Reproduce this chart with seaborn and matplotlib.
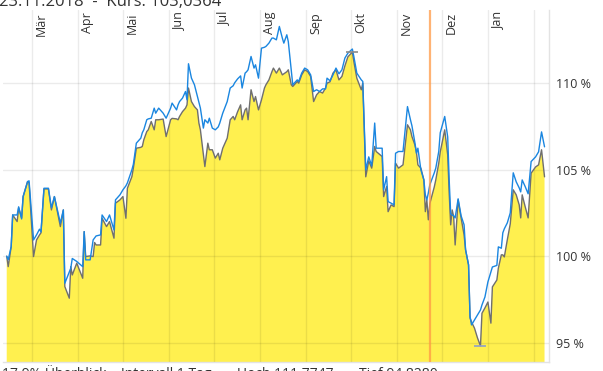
import pandas as pd
import numpy as np
import matplotlib
matplotlib.use("Agg")
import matplotlib.pyplot as plt
import matplotlib.transforms as mtransforms
import seaborn as sns

# Kursverlauf (grau, gelb gefuellt) und Vergleichslinie (blau), Werte in %
datum = [
    "2018-02-12", "2018-02-13", "2018-02-15", "2018-02-16", "2018-02-19", "2018-02-20",
    "2018-02-22", "2018-02-23", "2018-02-26", "2018-02-27", "2018-03-02", "2018-03-04",
    "2018-03-06", "2018-03-07", "2018-03-09", "2018-03-12", "2018-03-14", "2018-03-16",
    "2018-03-20", "2018-03-22", "2018-03-23", "2018-03-26", "2018-03-27", "2018-03-28",
    "2018-03-31", "2018-04-04", "2018-04-05", "2018-04-06", "2018-04-09", "2018-04-11",
    "2018-04-12", "2018-04-13", "2018-04-16", "2018-04-17", "2018-04-20", "2018-04-22",
    "2018-04-25", "2018-04-26", "2018-04-29", "2018-05-01", "2018-05-03", "2018-05-04",
    "2018-05-07", "2018-05-08", "2018-05-10", "2018-05-13", "2018-05-14", "2018-05-15",
    "2018-05-17", "2018-05-18", "2018-05-20", "2018-05-22", "2018-05-23", "2018-05-25",
    "2018-05-28", "2018-05-30", "2018-06-02", "2018-06-03", "2018-06-06", "2018-06-07",
    "2018-06-08", "2018-06-10", "2018-06-12", "2018-06-13", "2018-06-14", "2018-06-16",
    "2018-06-18", "2018-06-20", "2018-06-21", "2018-06-22", "2018-06-24", "2018-06-25",
    "2018-06-27", "2018-06-28", "2018-06-30", "2018-07-02", "2018-07-04", "2018-07-05",
    "2018-07-07", "2018-07-10", "2018-07-12", "2018-07-14", "2018-07-15", "2018-07-17",
    "2018-07-19", "2018-07-20", "2018-07-22", "2018-07-23", "2018-07-24", "2018-07-26",
    "2018-07-28", "2018-07-29", "2018-07-31", "2018-08-02", "2018-08-04", "2018-08-05",
    "2018-08-07", "2018-08-09", "2018-08-10", "2018-08-12", "2018-08-14", "2018-08-16",
    "2018-08-17", "2018-08-19", "2018-08-20", "2018-08-22", "2018-08-23", "2018-08-26",
    "2018-08-27", "2018-08-29", "2018-08-31", "2018-09-02", "2018-09-04", "2018-09-06",
    "2018-09-08", "2018-09-10", "2018-09-12", "2018-09-14", "2018-09-15", "2018-09-17",
    "2018-09-19", "2018-09-21", "2018-09-23", "2018-09-25", "2018-09-27", "2018-09-29",
    "2018-10-02", "2018-10-03", "2018-10-05", "2018-10-08", "2018-10-09", "2018-10-11",
    "2018-10-13", "2018-10-15", "2018-10-17", "2018-10-18", "2018-10-22", "2018-10-23",
    "2018-10-25", "2018-10-26", "2018-10-28", "2018-10-30", "2018-10-31", "2018-11-02",
    "2018-11-05", "2018-11-08", "2018-11-10", "2018-11-11", "2018-11-13", "2018-11-14",
    "2018-11-15", "2018-11-17", "2018-11-19", "2018-11-20", "2018-11-21", "2018-11-22",
    "2018-11-23", "2018-11-26", "2018-11-27", "2018-11-29", "2018-11-30", "2018-12-03",
    "2018-12-05", "2018-12-06", "2018-12-07", "2018-12-08", "2018-12-09", "2018-12-10",
    "2018-12-12", "2018-12-14", "2018-12-16", "2018-12-17", "2018-12-19", "2018-12-20",
    "2018-12-21", "2018-12-23", "2018-12-25", "2018-12-27", "2018-12-28", "2018-12-30",
    "2019-01-01", "2019-01-03", "2019-01-04", "2019-01-07", "2019-01-08", "2019-01-10",
    "2019-01-11", "2019-01-12", "2019-01-14", "2019-01-16", "2019-01-18", "2019-01-20",
    "2019-01-22", "2019-01-23", "2019-01-24", "2019-01-26", "2019-01-28", "2019-01-30",
    "2019-02-02", "2019-02-04", "2019-02-06", "2019-02-08",
]
kurs = [
    100.00, 99.40, 100.56, 102.38, 102.00, 102.79, 102.21, 103.44, 104.31, 104.23,
    99.98, 100.94, 101.23, 101.35, 103.88, 103.88, 102.67, 103.44, 101.71, 102.67,
    98.25, 97.58, 99.40, 98.92, 99.60, 98.73, 101.42, 99.98, 100.02, 99.98,
    100.79, 100.65, 100.65, 102.19, 101.71, 102.00, 101.04, 103.06, 103.25, 103.44,
    102.19, 103.92, 104.59, 105.08, 106.23, 106.28, 106.33, 106.71, 107.19, 107.29,
    107.77, 107.29, 107.87, 107.87, 107.91, 106.90, 107.87, 107.95, 107.92, 107.87,
    108.06, 108.34, 108.54, 108.73, 109.70, 108.92, 108.63, 108.44, 107.68, 107.29,
    105.85, 105.17, 106.52, 106.14, 106.14, 105.66, 105.94, 105.56, 106.23, 106.81,
    107.87, 108.06, 107.87, 108.34, 108.73, 107.87, 108.44, 108.54, 107.87, 109.60,
    108.92, 109.21, 108.44, 109.02, 109.70, 109.89, 110.17, 110.64, 110.85, 110.56,
    110.85, 110.46, 110.52, 110.64, 110.75, 109.89, 109.79, 110.08, 109.98, 110.46,
    110.75, 110.65, 110.37, 108.92, 109.31, 109.50, 109.41, 109.70, 109.98, 110.06,
    110.56, 110.75, 110.17, 110.37, 110.98, 111.50, 111.7747, 111.23, 110.27, 109.60,
    109.98, 104.58, 105.50, 105.08, 106.33, 106.04, 105.75, 103.44, 104.02, 102.57,
    102.96, 102.86, 105.37, 105.08, 105.27, 107.58, 107.29, 106.90, 106.42, 106.02,
    105.27, 105.08, 104.40, 102.57, 103.25, 102.10, 103.0364, 104.00, 104.40, 105.37,
    106.02, 107.29, 105.85, 103.65, 101.81, 102.67, 102.29, 100.65, 103.25, 102.21,
    101.23, 100.37, 99.50, 96.44, 96.21, 95.85, 95.29, 94.828, 96.71, 97.02,
    97.36, 96.14, 98.23, 98.63, 99.31, 100.08, 100.08, 99.96, 100.94, 101.87,
    103.83, 103.54, 102.96, 102.21, 103.54, 102.86, 102.21, 104.79, 105.15, 105.27,
    106.14, 104.58,
]
vergleich = [
    100.00, 99.80, 100.56, 102.38, 102.38, 102.85, 102.15, 103.44, 104.30, 104.35,
    100.94, 101.23, 101.56, 101.40, 103.92, 103.92, 102.79, 103.44, 101.91, 102.67,
    98.44, 99.09, 99.31, 99.87, 99.70, 99.40, 101.42, 99.79, 99.79, 100.94,
    101.06, 101.17, 101.23, 102.38, 102.00, 102.38, 101.52, 103.25, 103.54, 103.83,
    104.06, 104.23, 104.98, 105.30, 106.52, 106.81, 107.12, 107.29, 107.87, 107.92,
    107.96, 108.54, 108.25, 108.54, 108.25, 107.96, 108.54, 108.83, 108.44, 108.73,
    108.92, 109.12, 109.50, 109.02, 111.10, 110.27, 109.89, 109.21, 108.85, 108.54,
    107.39, 107.87, 107.68, 107.96, 107.39, 107.29, 107.46, 107.68, 108.25, 108.92,
    109.70, 109.83, 110.00, 110.23, 110.40, 109.70, 110.56, 110.64, 110.75, 111.52,
    110.85, 111.04, 110.27, 112.00, 112.05, 112.10, 112.29, 112.58, 112.58, 112.48,
    113.25, 112.58, 112.29, 112.77, 112.38, 110.75, 109.89, 110.17, 110.08, 110.56,
    110.85, 110.75, 110.46, 109.50, 109.60, 109.50, 109.65, 109.65, 110.27, 110.12,
    110.46, 110.85, 110.52, 110.75, 111.43, 111.71, 111.95, 111.52, 110.56, 110.17,
    110.08, 104.98, 105.73, 105.21, 107.68, 106.23, 106.23, 103.83, 104.59, 103.15,
    103.06, 102.96, 105.94, 106.04, 106.04, 108.63, 107.87, 107.52, 106.54, 105.94,
    106.23, 104.98, 104.40, 103.54, 103.25, 103.65, 104.12, 104.81, 105.08, 106.04,
    107.12, 108.06, 106.88, 104.40, 102.44, 102.38, 102.33, 102.21, 103.31, 102.33,
    101.81, 100.37, 99.50, 96.52, 96.04, 96.33, 96.62, 96.90, 97.19, 97.65,
    98.52, 99.09, 99.38, 99.47, 100.54, 100.46, 101.35, 101.58, 101.92, 102.50,
    104.81, 104.29, 103.94, 103.71, 104.40, 104.02, 103.60, 105.46, 105.73, 106.02,
    107.17, 106.31,
]

monate = ["Mär", "Apr", "Mai", "Jun", "Jul", "Aug", "Sep", "Okt", "Nov", "Dez", "Jan"]
monat_start = ["2018-03-01", "2018-04-01", "2018-05-01", "2018-06-01", "2018-07-01",
               "2018-08-01", "2018-09-01", "2018-10-01", "2018-11-01", "2018-12-01",
               "2019-01-01", "2019-02-01"]
y_ticks = [95, 100, 105, 110]

hoch_datum, hoch_wert = "2018-10-02", 111.7747
tief_datum, tief_wert = "2018-12-27", 94.828
auswahl_datum = "2018-11-23"
titel = "23.11.2018  -  Kurs: 103,0364"
fusszeile = "17,9% Überblick    Intervall 1 Tag       Hoch 111,7747       Tief 94,8280"

df = pd.DataFrame({"datum": pd.to_datetime(datum), "kurs": kurs, "vergleich": vergleich})

sns.set_style("white")
plt.rcParams["font.family"] = ["Open Sans", "DejaVu Sans"]

W, H = 603, 371
fig = plt.figure(figsize=(W / 100, H / 100), dpi=100)
ax = fig.add_axes([3 / W, 1 - 362 / H, 546 / W, 352 / H])

# gelbe Flaeche unter dem Kurs
ax.fill_between(df["datum"], df["kurs"], 90, color="#fff04f", lw=0, zorder=1)

sns.lineplot(data=df, x="datum", y="kurs", color="#6f6f6f", lw=1.0,
             estimator=None, ax=ax, zorder=3)
sns.lineplot(data=df, x="datum", y="vergleich", color="#1a86e0", lw=1.0,
             estimator=None, ax=ax, zorder=4)

# Hoch / Tief Markierungen
ax.plot(pd.Timestamp(hoch_datum), hoch_wert, marker="_", ms=9, mew=1.2,
        color="#8a8a8a", zorder=5)
ax.plot(pd.Timestamp(tief_datum), tief_wert, marker="_", ms=9, mew=1.2,
        color="#8fa0c8", zorder=5)

# ausgewaehlter Tag
ax.axvline(pd.Timestamp(auswahl_datum), color="#ff9a45", alpha=0.75, lw=1.6, zorder=6)

ax.set_xlim(pd.Timestamp("2018-02-09 12:00"), pd.Timestamp("2019-02-11"))
ax.set_ylim(93.9, 114.2)

ax.set_xticks(pd.to_datetime(monat_start))
ax.set_yticks(y_ticks)
ax.set_yticklabels([f"{v} %" for v in y_ticks])
ax.yaxis.tick_right()
ax.tick_params(axis="x", length=0, labelbottom=False)
ax.tick_params(axis="y", length=0, pad=5, labelsize=9, labelcolor="#333333")
ax.set_xlabel("")
ax.set_ylabel("")
ax.grid(True, color="black", alpha=0.08, lw=1)
ax.set_axisbelow(False)

for side in ["left", "top"]:
    ax.spines[side].set_visible(False)
for side in ["right", "bottom"]:
    ax.spines[side].set_color("#e3e3e3")
    ax.spines[side].set_linewidth(1)

# Monatsnamen oben im Diagramm
trans = mtransforms.blended_transform_factory(ax.transData, ax.transAxes)
trans = mtransforms.offset_copy(trans, fig=fig, x=3, y=-2, units="dots")
for d, name in zip(monat_start, monate):
    ax.text(pd.Timestamp(d), 1, name, transform=trans, rotation=90,
            ha="left", va="top", fontsize=9, color="#333333")

fig.text(-1 / W, 1 - 6 / H, titel, fontsize=12, color="#333333",
         ha="left", va="baseline")
fig.text(2 / W, 1 - 365 / H, fusszeile, fontsize=10, color="#333333",
         ha="left", va="top")

fig.savefig("out.png", dpi=100)
